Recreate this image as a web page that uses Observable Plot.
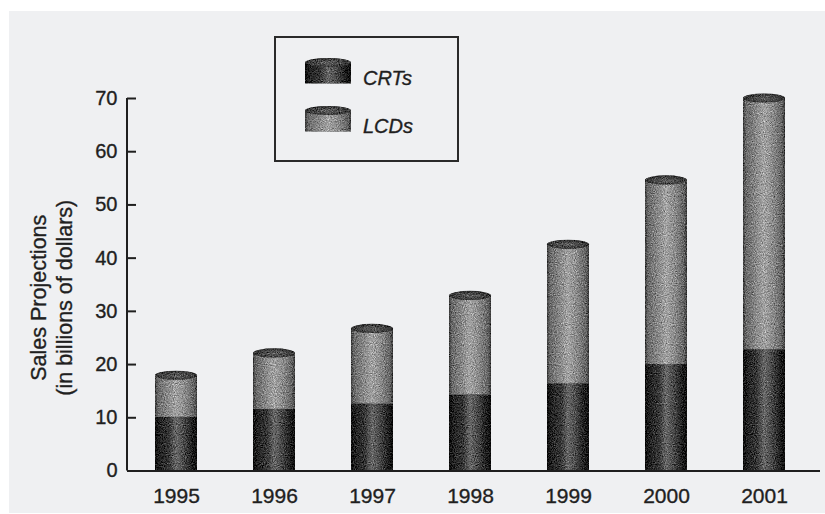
<!DOCTYPE html>
<html>
<head>
<meta charset="utf-8">
<script src="https://cdn.jsdelivr.net/npm/d3@7"></script>
<script src="https://cdn.jsdelivr.net/npm/@observablehq/plot@0.6"></script>
<style>
  html, body { margin: 0; padding: 0; background: #ffffff; }
  #chart {
    position: relative;
    width: 825px;
    height: 514px;
    background: linear-gradient(#eff0f2, #eff0f2) 9px 11px / 816px 502px no-repeat, #ffffff;
    font-family: "Liberation Sans", Arial, Helvetica, sans-serif;
  }
  #legend { position: absolute; left: 274px; top: 36px; }
  #chart text { stroke: #1f1f1f; stroke-width: 0.35px; }
</style>
</head>
<body>
<div id="chart"></div>
<script>
// Projected display sales, billions of dollars
const years = ["1995", "1996", "1997", "1998", "1999", "2000", "2001"];
const crtSales = [10.1, 11.6, 12.6, 14.3, 16.4, 20.0, 22.8];
const lcdSales = [7.8, 10.5, 14.1, 18.6, 26.1, 34.6, 47.2];
const seriesNames = ["CRTs", "LCDs"];
const yTicks = [0, 10, 20, 30, 40, 50, 60, 70];
const yTitle = ["Sales Projections", "(in billions of dollars)"];

const table = years.map((year, i) => ({
  year,
  crt: crtSales[i],
  lcd: lcdSales[i],
  total: crtSales[i] + lcdSales[i]
}));

const ink = "#1f1f1f";
const fillFor = {CRTs: "url(#crt-body)", LCDs: "url(#lcd-body)"};

// Shading for the cylinder bodies: dark rims, lighter core
const bodyGradients = [
  {id: "crt-body", stops: [[0, "#0c0c0c"], [0.12, "#242424"], [0.33, "#363636"], [0.5, "#686868"], [0.63, "#545454"], [0.86, "#242424"], [1, "#0c0c0c"]]},
  {id: "lcd-body", stops: [[0, "#3a3a3a"], [0.07, "#6a6a6a"], [0.3, "#888888"], [0.5, "#a4a4a4"], [0.72, "#8a8a8a"], [0.93, "#646464"], [1, "#383838"]]}
];

function defsMark() {
  const defs = d3.create("svg:defs");
  for (const g of bodyGradients) {
    const lg = defs.append("linearGradient").attr("id", g.id).attr("x1", 0).attr("x2", 1).attr("y1", 0).attr("y2", 0);
    for (const [o, c] of g.stops) lg.append("stop").attr("offset", o).attr("stop-color", c);
  }
  const rg = defs.append("radialGradient").attr("id", "cap-top").attr("cx", 0.5).attr("cy", 0.55).attr("r", 0.6);
  rg.append("stop").attr("offset", 0).attr("stop-color", "#626262");
  rg.append("stop").attr("offset", 0.7).attr("stop-color", "#3a3a3a");
  rg.append("stop").attr("offset", 1).attr("stop-color", "#222222");
  // printed-paper grain on the cylinders
  const f = defs.append("filter").attr("id", "grain")
    .attr("x", "-5%").attr("y", "-5%").attr("width", "110%").attr("height", "110%")
    .attr("color-interpolation-filters", "sRGB");
  f.append("feTurbulence").attr("type", "fractalNoise").attr("baseFrequency", 0.9)
    .attr("numOctaves", 2).attr("seed", 4).attr("result", "noise");
  f.append("feColorMatrix").attr("in", "noise").attr("type", "matrix")
    .attr("values", "0.33 0.33 0.33 0 0  0.33 0.33 0.33 0 0  0.33 0.33 0.33 0 0  0 0 0 0 1")
    .attr("result", "gray");
  f.append("feComposite").attr("in", "SourceGraphic").attr("in2", "gray").attr("operator", "arithmetic")
    .attr("k1", 0).attr("k2", 1).attr("k3", 1.1).attr("k4", -0.55).attr("result", "mixed");
  f.append("feComposite").attr("in", "mixed").attr("in2", "SourceGraphic").attr("operator", "in");
  return defs.node();
}

// Elliptical tops of the stacked cylinders
function capsMark(index, scales) {
  const x = scales.x, y = scales.y;
  const bw = typeof x.bandwidth === "function" ? x.bandwidth() : x.bandwidth;
  const g = d3.create("svg:g").attr("aria-label", "cylinder cap").attr("filter", "url(#grain)");
  g.selectAll("ellipse").data(table).join("ellipse")
    .attr("cx", d => x(d.year) + bw / 2)
    .attr("cy", d => y(d.total))
    .attr("rx", bw / 2)
    .attr("ry", 4.6)
    .attr("fill", "url(#cap-top)");
  return g.node();
}

// Vertical axis line from the top tick to zero
function yAxisLine(index, scales, values, dimensions) {
  const y = scales.y;
  return d3.create("svg:line")
    .attr("x1", dimensions.marginLeft).attr("x2", dimensions.marginLeft)
    .attr("y1", y(d3.max(yTicks))).attr("y2", y(0))
    .attr("stroke", ink).attr("stroke-width", 2)
    .node();
}

const chart = Plot.plot({
  width: 825,
  height: 514,
  marginLeft: 127,
  marginRight: 5,
  marginTop: 98,
  marginBottom: 43.5,
  style: {
    background: "transparent",
    fontFamily: "'Liberation Sans', Arial, Helvetica, sans-serif",
    fontSize: "21px",
    color: ink,
    overflow: "visible"
  },
  x: {domain: years, paddingInner: 0.574, paddingOuter: 0.297, align: 0.446, label: null},
  y: {domain: [0, 70], label: null},
  marks: [
    defsMark,
    Plot.barY(table, {x: "year", y1: 0, y2: "crt", fill: fillFor.CRTs}),
    Plot.barY(table, {x: "year", y1: "crt", y2: "total", fill: fillFor.LCDs}),
    capsMark,
    Plot.ruleY([0], {stroke: ink, strokeWidth: 2}),
    yAxisLine,
    Plot.axisX({tickSize: 0, tickPadding: 17, fontSize: 21, label: null}),
    Plot.axisY({ticks: yTicks, tickSize: -9, tickPadding: 19, fontSize: 20, strokeWidth: 2, stroke: ink, label: null}),
    Plot.text([yTitle.join("\n")], {
      frameAnchor: "left",
      rotate: -90,
      textAnchor: "middle",
      lineAnchor: "middle",
      lineHeight: 1.2,
      fontSize: 21.5,
      fill: ink,
      dx: -77,
      dy: 13
    })
  ]
});

d3.select(chart).selectAll('g[aria-label="bar"]').attr("filter", "url(#grain)");
document.getElementById("chart").appendChild(chart);

// Legend box with small cylinder swatches
const legend = d3.create("svg")
  .attr("id", "legend")
  .attr("width", 186)
  .attr("height", 127)
  .style("overflow", "visible");
legend.append("rect")
  .attr("x", 1).attr("y", 1).attr("width", 183).attr("height", 124)
  .attr("fill", "none").attr("stroke", "#2a2a2a").attr("stroke-width", 2);
const item = legend.selectAll("g.item").data(seriesNames).join("g")
  .attr("class", "item")
  .attr("transform", (d, i) => `translate(31, ${26.5 + i * 48})`);
const sw = item.append("g").attr("filter", "url(#grain)");
sw.append("rect").attr("x", 0).attr("y", 0).attr("width", 46).attr("height", 21)
  .attr("fill", d => fillFor[d]);
sw.append("ellipse").attr("cx", 23).attr("cy", 0).attr("rx", 23).attr("ry", 4.6)
  .attr("fill", "url(#cap-top)");
item.append("text")
  .attr("x", 58).attr("y", 22.5)
  .attr("font-size", 20).attr("font-style", "italic")
  .attr("font-family", "'Liberation Sans', Arial, Helvetica, sans-serif")
  .attr("fill", ink)
  .text(d => d);
document.getElementById("chart").appendChild(legend.node());
</script>
</body>
</html>
